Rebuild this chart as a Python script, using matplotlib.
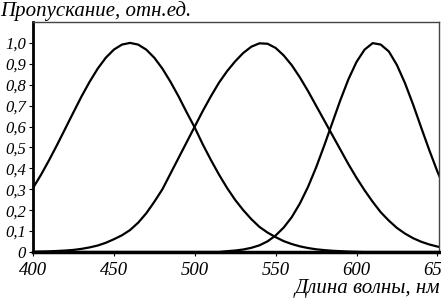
import matplotlib
matplotlib.use("Agg")
import matplotlib.pyplot as plt

# wavelength grid, nm (values every 5 nm)
wavelength = list(range(400, 660, 5))

blue = [0.306, 0.370, 0.440, 0.514, 0.591, 0.668, 0.744, 0.814, 0.877, 0.929,
        0.968, 0.992, 1.000, 0.992, 0.968, 0.929, 0.877, 0.814, 0.744, 0.668,
        0.595, 0.514, 0.440, 0.370, 0.306, 0.249, 0.200, 0.157, 0.120, 0.093,
        0.071, 0.052, 0.038, 0.027, 0.019, 0.013, 0.009, 0.006, 0.004, 0.002,
        0.001, 0.0, 0.0, 0.0, 0.0, 0.0, 0.0, 0.0, 0.0, 0.0,
        0.0, 0.0]

green = [0.001, 0.002, 0.003, 0.005, 0.007, 0.010, 0.015, 0.022, 0.031, 0.044,
         0.061, 0.080, 0.105, 0.140, 0.185, 0.240, 0.300, 0.375, 0.450, 0.525,
         0.600, 0.675, 0.745, 0.810, 0.865, 0.912, 0.952, 0.982, 0.998, 0.996,
         0.976, 0.940, 0.893, 0.835, 0.770, 0.700, 0.630, 0.560, 0.490, 0.420,
         0.355, 0.295, 0.240, 0.190, 0.150, 0.115, 0.088, 0.066, 0.049, 0.036,
         0.026, 0.019]

red = [0.0, 0.0, 0.0, 0.0, 0.0, 0.0, 0.0, 0.0, 0.0, 0.0,
       0.0, 0.0, 0.0, 0.0, 0.0, 0.0, 0.0, 0.0, 0.0, 0.0,
       0.0, 0.0, 0.0, 0.0, 0.004, 0.007, 0.012, 0.020, 0.032, 0.051,
       0.079, 0.117, 0.167, 0.232, 0.311, 0.404, 0.508, 0.617, 0.726, 0.826,
       0.909, 0.968, 0.999, 0.992, 0.959, 0.894, 0.807, 0.705, 0.595, 0.487,
       0.385, 0.295]

y_ticks = [0.0, 0.1, 0.2, 0.3, 0.4, 0.5, 0.6, 0.7, 0.8, 0.9, 1.0]
y_labels = ["0", "0,1", "0,2", "0,3", "0,4", "0,5", "0,6", "0,7", "0,8", "0,9", "1,0"]
x_ticks = [400, 450, 500, 550, 600, 650]

plt.rcParams['font.family'] = ['Liberation Serif', 'DejaVu Serif']
plt.rcParams['font.style'] = 'italic'

fig = plt.figure(figsize=(4.41, 2.98), dpi=100)
ax = fig.add_axes([33 / 441, 1 - 252 / 298, 406 / 441, 230 / 298])

for curve in (blue, green, red):
    ax.plot(wavelength, curve, color='black', lw=1.6,
            solid_joinstyle='round', solid_capstyle='round')

ax.set_xlim(400, 651)
ax.set_ylim(0, 1.1)

ax.set_yticks(y_ticks)
ax.set_yticklabels(y_labels, fontsize=12, style='italic')
ax.set_xticks(x_ticks)
ax.set_xticklabels([str(t) for t in x_ticks], fontsize=13.5, style='italic')
ax.tick_params(axis='y', length=3, width=0.8, pad=2)
ax.tick_params(axis='x', length=3, width=0.8, pad=4)

ax.spines['left'].set_linewidth(2.0)
ax.spines['bottom'].set_linewidth(2.5)
ax.spines['top'].set_linewidth(1.0)
ax.spines['right'].set_linewidth(1.0)
ax.spines['top'].set_color('#444444')
ax.spines['right'].set_color('#444444')

fig.text(0.0, 0.998, "Пропускание, отн.ед.", fontsize=15, style='italic',
         ha='left', va='top')
fig.text(0.998, 0.0, "Длина волны, нм", fontsize=15, style='italic',
         ha='right', va='bottom')

fig.savefig("out.png", dpi=100)
